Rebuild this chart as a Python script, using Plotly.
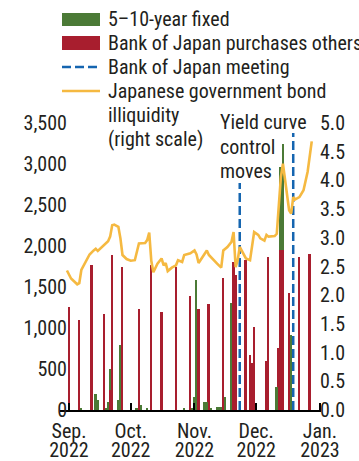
import plotly.graph_objects as go

# ---------------- data ----------------
others_dates = ["2022-09-01", "2022-09-06", "2022-09-12", "2022-09-18", "2022-09-21", "2022-09-22",
                "2022-09-27", "2022-10-05", "2022-10-11", "2022-10-16", "2022-10-23", "2022-10-30",
                "2022-11-03", "2022-11-08", "2022-11-15", "2022-11-20", "2022-11-21", "2022-11-26",
                "2022-11-28", "2022-11-29", "2022-11-30", "2022-12-06", "2022-12-07", "2022-12-12",
                "2022-12-13", "2022-12-14", "2022-12-17", "2022-12-22", "2022-12-27"]
others_vals = [1260, 1100, 1770, 1170, 244, 1894,
               1740, 1230, 1768, 1199, 1740, 1390,
               1230, 1293, 1610, 1800, 1650, 1829,
               670, 569, 1010, 601, 1870, 752,
               1950, 1950, 1423, 1870, 1898]

fixed_dates = ["2022-09-07", "2022-09-14", "2022-09-15", "2022-09-19", "2022-09-20", "2022-09-21",
               "2022-09-25", "2022-09-26", "2022-10-04", "2022-10-06", "2022-10-09", "2022-10-27",
               "2022-10-31", "2022-11-01", "2022-11-02", "2022-11-06", "2022-11-07", "2022-11-09",
               "2022-11-12", "2022-11-13", "2022-11-14", "2022-11-16", "2022-11-19", "2022-12-11",
               "2022-12-13", "2022-12-14", "2022-12-18"]
fixed_vals = [30, 191, 122, 28, 94, 256,
              122, 790, 28, 57, 30, 20,
              20, 160, 1585, 94, 94, 20,
              33, 33, 33, 160, 1300, 285,
              1017, 1300, 915]

illiq_dates = ["2022-08-31", "2022-09-02", "2022-09-05", "2022-09-06", "2022-09-07", "2022-09-09",
               "2022-09-11", "2022-09-13", "2022-09-14", "2022-09-15", "2022-09-17", "2022-09-19",
               "2022-09-20", "2022-09-21", "2022-09-22", "2022-09-23", "2022-09-25", "2022-09-26",
               "2022-09-27", "2022-09-29", "2022-10-01", "2022-10-03", "2022-10-04", "2022-10-05",
               "2022-10-08", "2022-10-09", "2022-10-10", "2022-10-11", "2022-10-12", "2022-10-14",
               "2022-10-16", "2022-10-17", "2022-10-18", "2022-10-19", "2022-10-21", "2022-10-23",
               "2022-10-24", "2022-10-26", "2022-10-27", "2022-10-30", "2022-11-01", "2022-11-02",
               "2022-11-03", "2022-11-05", "2022-11-07", "2022-11-08", "2022-11-10", "2022-11-12",
               "2022-11-14", "2022-11-15", "2022-11-17", "2022-11-19", "2022-11-20", "2022-11-21",
               "2022-11-22", "2022-11-23", "2022-11-26", "2022-11-28", "2022-11-30", "2022-12-02",
               "2022-12-03", "2022-12-05", "2022-12-06", "2022-12-07", "2022-12-10", "2022-12-11",
               "2022-12-12", "2022-12-13", "2022-12-14", "2022-12-15", "2022-12-17", "2022-12-18",
               "2022-12-19", "2022-12-20", "2022-12-22", "2022-12-24", "2022-12-26", "2022-12-28"]
illiq_vals = [2.43, 2.29, 2.19, 2.21, 2.44, 2.58,
              2.71, 2.78, 2.81, 2.77, 2.84, 2.90,
              2.94, 3.02, 3.22, 3.23, 3.19, 2.99,
              2.70, 2.63, 2.60, 2.61, 2.76, 2.90,
              2.91, 2.96, 3.09, 2.60, 2.40, 2.55,
              2.64, 2.52, 2.56, 2.42, 2.48, 2.52,
              2.61, 2.58, 2.70, 2.73, 2.78, 2.71,
              2.56, 2.68, 2.78, 2.70, 2.62, 2.55,
              2.48, 2.78, 2.84, 2.93, 3.10, 2.49,
              2.61, 2.84, 2.64, 2.61, 3.10, 3.05,
              2.99, 2.95, 3.05, 3.02, 3.03, 3.07,
              3.57, 4.06, 4.29, 4.03, 3.48, 3.42,
              3.71, 3.67, 3.71, 3.83, 4.15, 4.68]

meeting_dates = ["2022-11-23", "2022-12-19"]
meeting_tops = [2768, 3378]

left_ticks = [0, 500, 1000, 1500, 2000, 2500, 3000, 3500]
right_ticks = [0.0, 0.5, 1.0, 1.5, 2.0, 2.5, 3.0, 3.5, 4.0, 4.5, 5.0]
month_ticks = ["2022-09-01", "2022-10-01", "2022-11-01", "2022-12-01", "2023-01-01"]
month_labels = ["Sep.", "Oct.", "Nov.", "Dec.", "Jan."]
year_labels = ["2022", "2022", "2022", "2022", "2023"]

legend_labels = ["5–10-year fixed", "Bank of Japan purchases others", "Bank of Japan meeting",
                 "Japanese government bond", "illiquidity", "(right scale)"]
note_lines = ["Yield curve", "control", "moves"]

# ---------------- style ----------------
GREEN = "#4B7A36"
RED = "#A81E2E"
BLUE = "#1565B0"
YELLOW = "#F5B941"
INK = "#231F20"
FONT = "Liberation Sans Narrow, Arial Narrow, Roboto Condensed, DejaVu Sans Condensed, sans-serif"
FS = 20

W, H = 359, 461
ML, MR, MT, MB = 60, 38, 123, 51
PW, PH = W - ML - MR, H - MT - MB
DAY_MS = 86400000
X_RANGE = ["2022-08-27 15:00", "2023-01-01 12:00"]


def px(xp):
    return (xp - ML) / PW


def py(yp):
    return (H - MB - yp) / PH


fig = go.Figure()
fig.add_trace(go.Bar(x=others_dates, y=others_vals, marker_color=RED, marker_line_width=0,
                     width=0.9 * DAY_MS, name="Bank of Japan purchases others", showlegend=False))
fig.add_trace(go.Bar(x=fixed_dates, y=fixed_vals, marker_color=GREEN, marker_line_width=0,
                     width=0.9 * DAY_MS, name="5–10-year fixed", showlegend=False))
for d, t in zip(meeting_dates, meeting_tops):
    fig.add_trace(go.Scatter(x=[d, d], y=[0, t], mode="lines",
                             line=dict(color=BLUE, width=2.5, dash="9px,4px"),
                             showlegend=False, hoverinfo="skip"))
fig.add_trace(go.Scatter(x=illiq_dates, y=illiq_vals, mode="lines", xaxis="x2", yaxis="y2",
                         line=dict(color=YELLOW, width=2.6), showlegend=False))

# manual legend
shapes = [
    dict(type="rect", xref="paper", yref="paper", x0=px(62), x1=px(100), y0=py(26), y1=py(13),
         fillcolor=GREEN, line_width=0),
    dict(type="rect", xref="paper", yref="paper", x0=px(62), x1=px(100), y0=py(50), y1=py(36),
         fillcolor=RED, line_width=0),
    dict(type="line", xref="paper", yref="paper", x0=px(62), x1=px(100), y0=py(67), y1=py(67),
         line=dict(color=BLUE, width=2.5, dash="9px,4px")),
    dict(type="line", xref="paper", yref="paper", x0=px(62), x1=px(100), y0=py(91), y1=py(91),
         line=dict(color=YELLOW, width=2.6)),
]
annotations = []
row_y = [19.5, 43, 67, 91, 115, 139]
for lab, yy in zip(legend_labels, row_y):
    annotations.append(dict(text=lab, xref="paper", yref="paper", x=px(106), y=py(yy),
                            xanchor="left", yanchor="middle", align="left", showarrow=False,
                            font=dict(family=FONT, size=FS, color=INK)))
for lab, yy in zip(note_lines, [122.5, 146.5, 170.5]):
    annotations.append(dict(text=lab, xref="paper", yref="paper", x=px(218), y=py(yy),
                            xanchor="left", yanchor="middle", align="left", showarrow=False,
                            font=dict(family=FONT, size=FS, color=INK)))

fig.update_layout(
    width=W, height=H, margin=dict(l=ML, r=MR, t=MT, b=MB, autoexpand=False),
    paper_bgcolor="white", plot_bgcolor="white",
    barmode="stack", bargap=0,
    font=dict(family=FONT, size=FS, color=INK),
    shapes=shapes, annotations=annotations,
    xaxis=dict(type="date", range=X_RANGE,
               tickvals=month_ticks, ticktext=month_labels,
               ticks="inside", ticklen=7, tickwidth=1.5, tickcolor="black",
               showline=True, linecolor="black", linewidth=1.5,
               showgrid=False, zeroline=False, tickangle=0, automargin=False,
               ticklabelstandoff=2),
    xaxis2=dict(type="date", range=X_RANGE, overlaying="x", anchor="y", side="bottom",
                tickvals=month_ticks, ticktext=year_labels,
                ticks="", showline=False, showgrid=False, zeroline=False, tickangle=0,
                automargin=False, ticklabelstandoff=26),
    yaxis=dict(range=[0, 3500], tickvals=left_ticks, tickformat=",", ticksuffix=" –",
               ticks="", showline=False, showgrid=False, zeroline=False,
               ticklabelstandoff=-8, automargin=False),
    yaxis2=dict(range=[0, 5], tickvals=right_ticks, tickformat=".1f", tickprefix="– ",
                overlaying="y", side="right", anchor="x", ticks="", showline=False,
                showgrid=False, zeroline=False, ticklabelstandoff=-2, automargin=False),
)

fig.write_html("out.html", config={"displayModeBar": False},
               post_script="document.body.style.margin='0px';document.body.style.overflow='hidden';")
